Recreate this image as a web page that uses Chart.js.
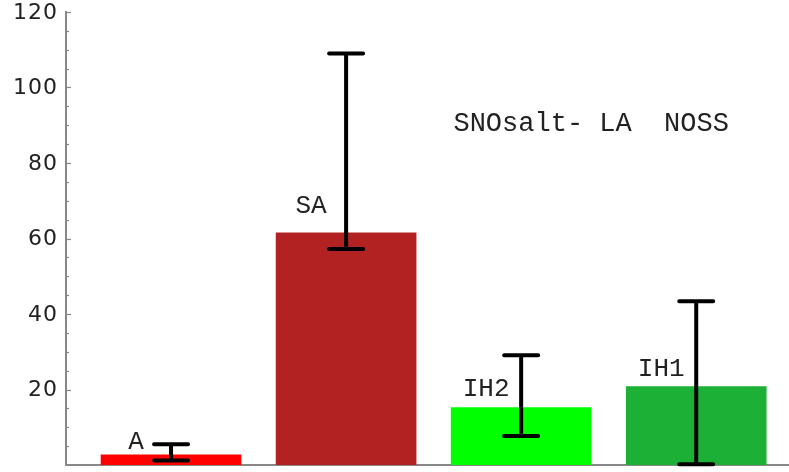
<!DOCTYPE html>
<html>
<head>
<meta charset="utf-8">
<script src="https://cdn.jsdelivr.net/npm/chart.js@4/dist/chart.umd.min.js"></script>
<style>
  html, body { margin: 0; padding: 0; background: #fff; }
  #wrap { width: 789px; height: 472px; position: relative; }
</style>
</head>
<body>
<div id="wrap"><canvas id="graph"></canvas></div>
<script>
// scenarios and their fitted rates
var names = ['A', 'SA', 'IH2', 'IH1'];
var rates = [2.7, 61.5, 15.2, 20.8];
var errLow = [1.2, 57.2, 7.7, 0.2];
var errHigh = [5.5, 109.0, 29.1, 43.4];
var labelHeight = [6.0, 68.5, 20.0, 25.4];
var barColors = ['#ff0000', '#b22222', '#00ff00', '#1cb036'];
var yTicks = [20, 40, 60, 80, 100, 120];
var title = 'SNOsalt- LA  NOSS';

var axisGray = '#888888';
var mono = '"Liberation Mono", "Courier New", monospace';

// inward ticks on the y axis (minor every 5) and their labels
var tickMarks = {
  id: 'tickMarks',
  afterDraw(chart) {
    var ctx = chart.ctx, y = chart.scales.y;
    ctx.save();
    ctx.strokeStyle = axisGray;
    ctx.lineWidth = 1.2;
    for (var v = 5; v <= 120; v += 5) {
      var py = Math.round(y.getPixelForValue(v)) + 0.5;
      var len = yTicks.indexOf(v) >= 0 ? 5 : 3;
      ctx.beginPath();
      ctx.moveTo(y.right, py);
      ctx.lineTo(y.right + len, py);
      ctx.stroke();
    }
    ctx.fillStyle = '#222';
    ctx.font = '22px "DejaVu Sans", sans-serif';
    ctx.letterSpacing = '1px';
    ctx.textAlign = 'right';
    ctx.textBaseline = 'middle';
    yTicks.forEach(function (v) {
      ctx.fillText(String(v), y.right - 8, y.getPixelForValue(v) + 1);
    });
    ctx.restore();
  }
};

// error bars and text labels
var extras = {
  id: 'extras',
  afterDatasetsDraw(chart) {
    var ctx = chart.ctx, xs = chart.scales.x, ys = chart.scales.y;
    ctx.save();
    ctx.strokeStyle = '#000';
    ctx.lineWidth = 4;
    ctx.lineCap = 'round';
    names.forEach(function (n, i) {
      var px = xs.getPixelForValue(i + 1);
      var lo = ys.getPixelForValue(errLow[i]);
      var hi = ys.getPixelForValue(errHigh[i]);
      ctx.beginPath();
      ctx.moveTo(px, lo); ctx.lineTo(px, hi);
      ctx.moveTo(px - 17, lo); ctx.lineTo(px + 17, lo);
      ctx.moveTo(px - 17, hi); ctx.lineTo(px + 17, hi);
      ctx.stroke();
    });

    ctx.fillStyle = '#222';
    ctx.font = '26px ' + mono;
    ctx.textAlign = 'center';
    ctx.textBaseline = 'middle';
    names.forEach(function (n, i) {
      ctx.fillText(n, xs.getPixelForValue(i + 0.8), ys.getPixelForValue(labelHeight[i]));
    });
    ctx.font = '27px ' + mono;
    ctx.fillText(title, xs.getPixelForValue(3.4), ys.getPixelForValue(90.4));
    ctx.restore();
  }
};

var ctx = document.getElementById('graph').getContext('2d');
var chart = new Chart(ctx, {
  type: 'bar',
  data: {
    datasets: [{
      data: names.map(function (n, i) { return { x: i + 1, y: rates[i] }; }),
      backgroundColor: barColors,
      borderWidth: 0,
      barThickness: 140
    }]
  },
  options: {
    responsive: true,
    maintainAspectRatio: false,
    animation: false,
    layout: { padding: { top: 12, right: 0, left: 0, bottom: 0 } },
    plugins: {
      legend: { display: false },
      tooltip: { enabled: false }
    },
    scales: {
      x: {
        type: 'linear',
        offset: false,
        min: 0.4,
        max: 4.53,
        grid: { display: false, offset: false },
        ticks: { display: false },
        border: { display: true, color: axisGray, width: 2 },
        afterFit(scale) { scale.height = 7; }
      },
      y: {
        min: 0,
        max: 120,
        grid: { display: false },
        border: { display: true, color: axisGray, width: 2 },
        ticks: { display: false },
        afterFit(scale) { scale.width = 66; }
      }
    }
  },
  plugins: [tickMarks, extras]
});
</script>
</body>
</html>
